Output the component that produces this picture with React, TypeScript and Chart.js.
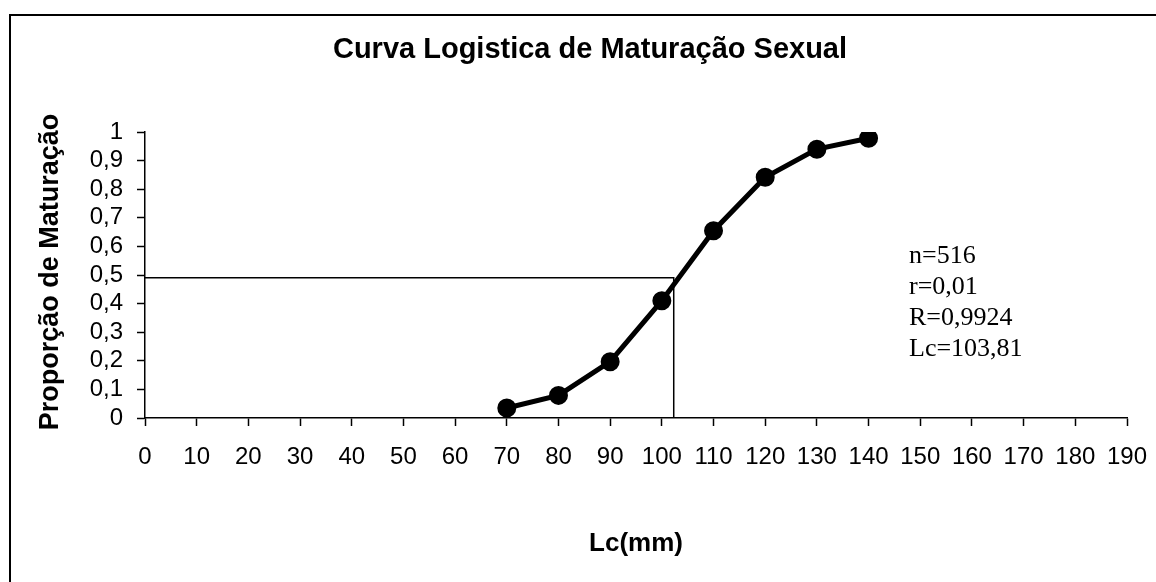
import React, { useEffect, useRef } from "react";
import { Chart, registerables } from "chart.js";

Chart.register(...registerables);

const lengthClasses = [70, 80, 90, 100, 110, 120, 130, 140];
const maturityProportion = [0.035, 0.079, 0.197, 0.41, 0.655, 0.842, 0.94, 0.978];
const refLineX = [0, 102.3, 102.3];
const refLineY = [0.49, 0.49, -0.012];
const statsLines = ["n=516", "r=0,01", "R=0,9924", "Lc=103,81"];
const chartTitle = "Curva Logistica de Maturação Sexual";
const yTitle = "Proporção de Maturação";
const xTitle = "Lc(mm)";

const SANS = "'Liberation Sans', Arial, sans-serif";
const SERIF = "'Liberation Serif', 'Times New Roman', serif";

export default function App() {
  const ref = useRef<HTMLCanvasElement | null>(null);

  useEffect(() => {
    if (!ref.current) return;
    const decor = {
      id: "decor",
      beforeDraw(chart: any) {
        const ctx = chart.ctx;
        ctx.save();
        ctx.fillStyle = "#fff";
        ctx.fillRect(0, 0, chart.width, chart.height);
        ctx.strokeStyle = "#000";
        ctx.lineWidth = 2;
        ctx.strokeRect(10, 15, 1300, 800);
        ctx.restore();
      },
      afterDraw(chart: any) {
        const ctx = chart.ctx;
        ctx.save();
        ctx.fillStyle = "#000";
        ctx.textBaseline = "alphabetic";
        ctx.textAlign = "center";
        ctx.font = `bold 29px ${SANS}`;
        ctx.fillText(chartTitle, 590, 58);
        ctx.font = `bold 26px ${SANS}`;
        ctx.fillText(xTitle, 636, 551);
        ctx.save();
        ctx.font = `bold 27px ${SANS}`;
        ctx.translate(58, 272);
        ctx.rotate(-Math.PI / 2);
        ctx.fillText(yTitle, 0, 0);
        ctx.restore();
        ctx.textAlign = "left";
        ctx.font = `26px ${SERIF}`;
        statsLines.forEach((s, i) => ctx.fillText(s, 909, 263 + i * 31));
        ctx.restore();
      },
    };

    const chart = new Chart(ref.current, {
      type: "line",
      data: {
        datasets: [
          {
            data: refLineX.map((x, i) => ({ x, y: refLineY[i] })),
            borderColor: "#000",
            borderWidth: 1.5,
            pointRadius: 0,
            tension: 0,
            fill: false,
          },
          {
            data: lengthClasses.map((x, i) => ({ x, y: maturityProportion[i] })),
            borderColor: "#000",
            backgroundColor: "#000",
            borderWidth: 5,
            pointRadius: 7,
            pointBackgroundColor: "#000",
            pointBorderColor: "#000",
            tension: 0,
            fill: false,
          },
        ],
      },
      plugins: [decor],
      options: {
        responsive: false,
        animation: false,
        layout: { padding: { left: 0, right: 29, top: 132, bottom: 0 } },
        plugins: {
          legend: { display: false },
          title: { display: false },
          tooltip: { enabled: false },
        },
        scales: {
          x: {
            type: "linear",
            min: 0,
            max: 190,
            afterFit(scale: any) {
              scale.height = 164;
              scale.paddingLeft = 0;
              scale.paddingRight = 0;
            },
            ticks: {
              stepSize: 10,
              autoSkip: false,
              maxRotation: 0,
              minRotation: 0,
              padding: 17,
              color: "#000",
              font: { family: SANS, size: 24 },
            },
            grid: {
              drawOnChartArea: false,
              drawTicks: true,
              tickLength: 8,
              tickColor: "#000",
              tickWidth: 1.5,
            },
            border: { display: true, color: "#000", width: 1.5 },
          },
          y: {
            type: "linear",
            min: 0,
            max: 1,
            afterFit(scale: any) {
              scale.width = 145;
              scale.paddingTop = 0;
              scale.paddingBottom = 0;
            },
            ticks: {
              stepSize: 0.1,
              autoSkip: false,
              padding: 14,
              color: "#000",
              font: { family: SANS, size: 24 },
              callback: (v: any) => String(Math.round(Number(v) * 10) / 10).replace(".", ","),
            },
            grid: {
              drawOnChartArea: false,
              drawTicks: true,
              tickLength: 8,
              tickColor: "#000",
              tickWidth: 1.5,
            },
            border: { display: true, color: "#000", width: 1.5 },
          },
        },
      },
    });
    return () => chart.destroy();
  }, []);

  return (
    <div style={{ position: "absolute", left: 0, top: 0, width: 1156, height: 582 }}>
      <canvas ref={ref} width={1156} height={582} style={{ width: 1156, height: 582, display: "block" }} />
    </div>
  );
}
